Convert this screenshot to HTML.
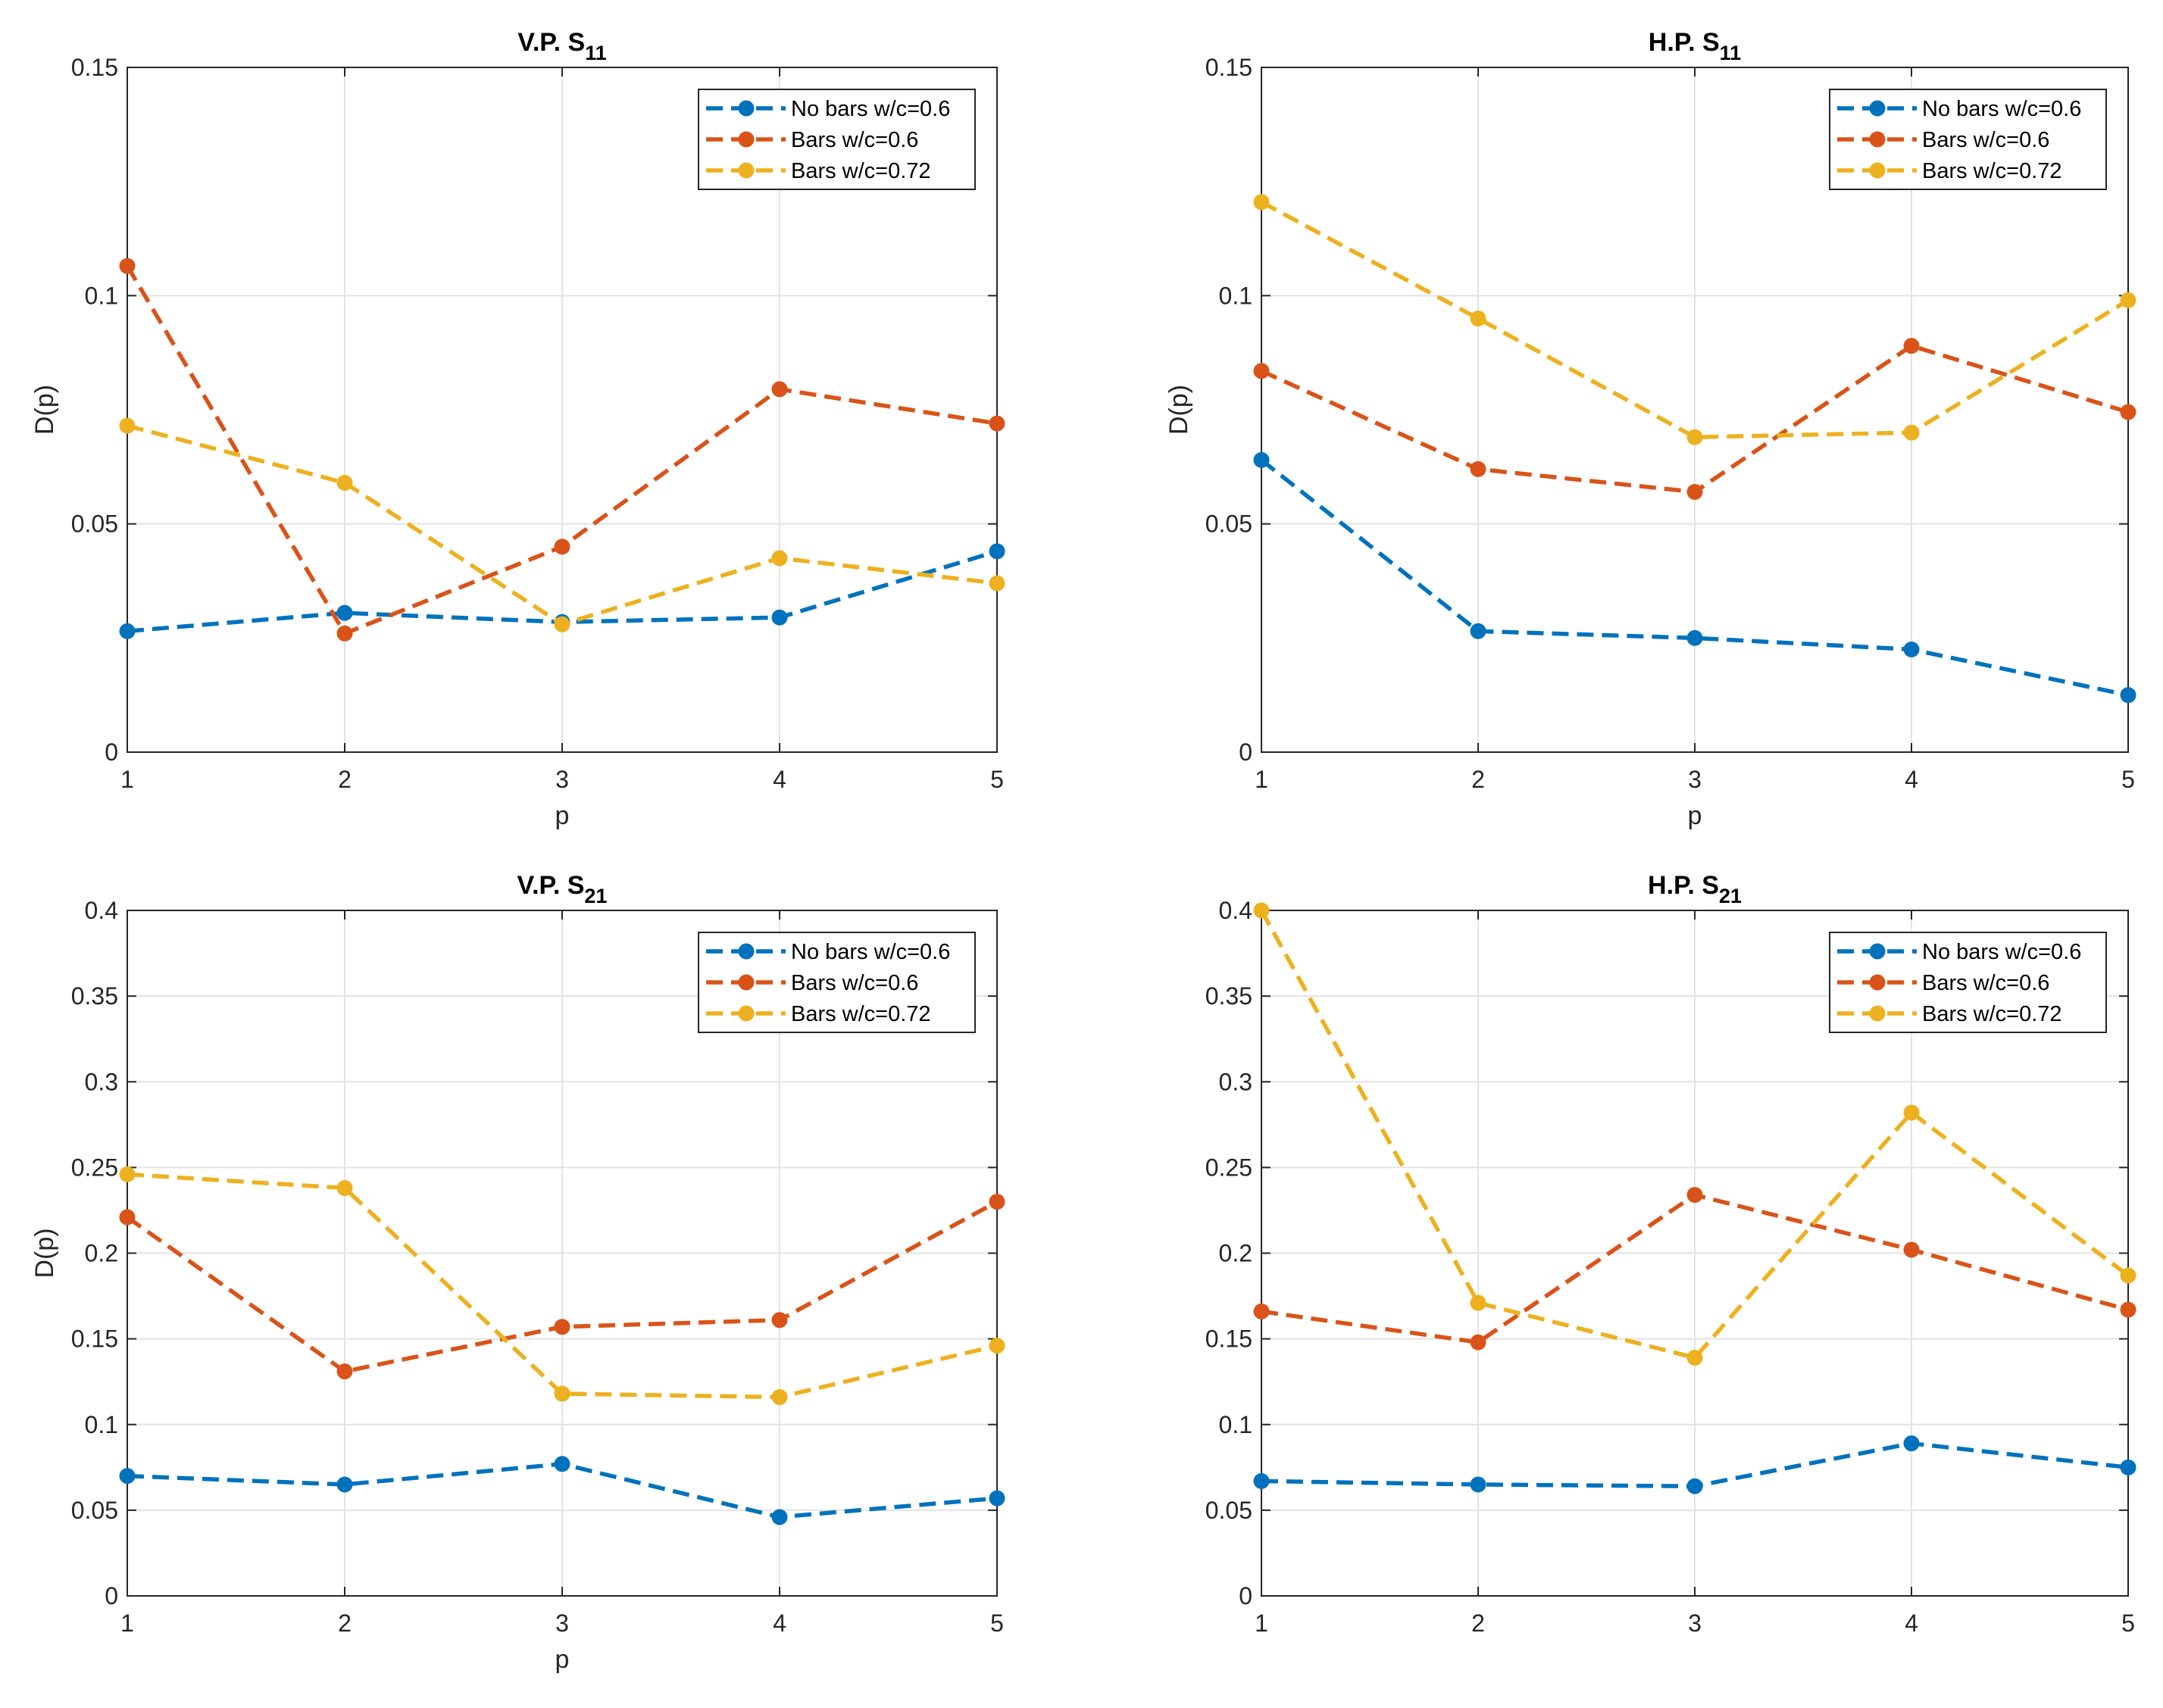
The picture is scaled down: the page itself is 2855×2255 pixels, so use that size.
<!DOCTYPE html>
<html><head><meta charset="utf-8">
<style>html,body{margin:0;padding:0;background:#fff}svg{display:block}</style></head>
<body>
<svg id="fig" width="2855" height="2255" xmlns="http://www.w3.org/2000/svg" font-family="Liberation Sans, sans-serif"></svg>
<script>
const xCats = [1, 2, 3, 4, 5];
const seriesNames = ["No bars w/c=0.6", "Bars w/c=0.6", "Bars w/c=0.72"];
const vpS11Blue = [0.0265, 0.0305, 0.0285, 0.0295, 0.044];
const vpS11Red = [0.1065, 0.026, 0.045, 0.0795, 0.072];
const vpS11Yellow = [0.0715, 0.059, 0.028, 0.0425, 0.037];
const hpS11Blue = [0.064, 0.0265, 0.025, 0.0225, 0.0125];
const hpS11Red = [0.0835, 0.062, 0.057, 0.089, 0.0745];
const hpS11Yellow = [0.1205, 0.095, 0.069, 0.070, 0.099];
const vpS21Blue = [0.070, 0.065, 0.077, 0.046, 0.057];
const vpS21Red = [0.221, 0.131, 0.157, 0.161, 0.230];
const vpS21Yellow = [0.246, 0.238, 0.118, 0.116, 0.146];
const hpS21Blue = [0.067, 0.065, 0.064, 0.089, 0.075];
const hpS21Red = [0.166, 0.148, 0.234, 0.202, 0.167];
const hpS21Yellow = [0.4, 0.171, 0.139, 0.282, 0.187];
const ticksS11 = [0, 0.05, 0.1, 0.15];
const tickLabelsS11 = ["0", "0.05", "0.1", "0.15"];
const ticksS21 = [0, 0.05, 0.1, 0.15, 0.2, 0.25, 0.3, 0.35, 0.4];
const tickLabelsS21 = ["0", "0.05", "0.1", "0.15", "0.2", "0.25", "0.3", "0.35", "0.4"];

const NS = "http://www.w3.org/2000/svg";
const colors = ["#0072BD", "#D95319", "#EDB120"];
const svg = document.getElementById("fig");
function mk(tag, attrs, parent) {
  const e = document.createElementNS(NS, tag);
  for (const k in attrs) e.setAttribute(k, attrs[k]);
  (parent || svg).appendChild(e);
  return e;
}

const panels = [
  {id:"vp-s11", L:168, R:1316, T:89, B:993, ymax:0.15, ticks:ticksS11, labels:tickLabelsS11, title:"V.P. S", sub:"11", data:[vpS11Blue, vpS11Red, vpS11Yellow], ylab:true, xlab:true},
  {id:"hp-s11", L:1665, R:2809, T:89, B:993, ymax:0.15, ticks:ticksS11, labels:tickLabelsS11, title:"H.P. S", sub:"11", data:[hpS11Blue, hpS11Red, hpS11Yellow], ylab:true, xlab:true},
  {id:"vp-s21", L:168, R:1316, T:1202, B:2107, ymax:0.4, ticks:ticksS21, labels:tickLabelsS21, title:"V.P. S", sub:"21", data:[vpS21Blue, vpS21Red, vpS21Yellow], ylab:true, xlab:true},
  {id:"hp-s21", L:1665, R:2809, T:1202, B:2107, ymax:0.4, ticks:ticksS21, labels:tickLabelsS21, title:"H.P. S", sub:"21", data:[hpS21Blue, hpS21Red, hpS21Yellow], ylab:false, xlab:false}
];

panels.forEach(p => {
  const g = mk("g", {});
  
  
  const xs = v => p.L + (v - 1) / 4 * (p.R - p.L);
  const ys = v => p.B - v / p.ymax * (p.B - p.T);
  xCats.forEach(c => {
    const l = mk("line", {x1:xs(c), x2:xs(c), y1:p.T, y2:p.B, stroke:"#e3e3e3", "stroke-width":2}, g);
    
    
  });
  p.ticks.forEach(t => {
    const l = mk("line", {x1:p.L, x2:p.R, y1:ys(t), y2:ys(t), stroke:"#e3e3e3", "stroke-width":2}, g);
    
    
  });
  const box = mk("rect", {x:p.L, y:p.T, width:p.R-p.L, height:p.B-p.T, fill:"none", stroke:"#262626", "stroke-width":2}, g);
  
  
  xCats.forEach(c => {
    mk("line", {x1:xs(c), x2:xs(c), y1:p.B, y2:p.B-12, stroke:"#262626", "stroke-width":2}, g);
    mk("line", {x1:xs(c), x2:xs(c), y1:p.T, y2:p.T+12, stroke:"#262626", "stroke-width":2}, g);
    const t = mk("text", {x:xs(c), y:p.B+47, "text-anchor":"middle", "font-size":32, fill:"#262626"}, g);
    t.textContent = c;
    
    
  });
  p.ticks.forEach((tv, i) => {
    mk("line", {x1:p.L, x2:p.L+12, y1:ys(tv), y2:ys(tv), stroke:"#262626", "stroke-width":2}, g);
    mk("line", {x1:p.R, x2:p.R-12, y1:ys(tv), y2:ys(tv), stroke:"#262626", "stroke-width":2}, g);
    const t = mk("text", {x:p.L-12, y:ys(tv)+11, "text-anchor":"end", "font-size":32, fill:"#262626"}, g);
    t.textContent = p.labels[i];
    
    
  });
  const tt = mk("text", {x:(p.L+p.R)/2, y:p.T-22, "text-anchor":"middle", "font-size":34, "font-weight":"bold", fill:"#000"}, g);
  
  
  tt.appendChild(document.createTextNode(p.title));
  const ts = mk("tspan", {dy:12, "font-size":27}, tt);
  ts.textContent = p.sub;
  if (p.ylab) {
    const yl = mk("text", {x:0, y:0, transform:`translate(${p.L-98},${(p.T+p.B)/2}) rotate(-90)`, "text-anchor":"middle", "font-size":34, fill:"#262626"}, g);
    yl.textContent = "D(p)";
    
    
  }
  if (p.xlab) {
    const xl = mk("text", {x:(p.L+p.R)/2, y:p.B+95, "text-anchor":"middle", "font-size":34, fill:"#262626"}, g);
    xl.textContent = "p";
    
    
  }
  p.data.forEach((arr, si) => {
    const pts = arr.map((v, i) => xs(xCats[i]) + "," + ys(v)).join(" ");
    const pl = mk("polyline", {points:pts, fill:"none", stroke:colors[si], "stroke-width":5.5, "stroke-dasharray":"22 11"}, g);
    
    
    arr.forEach((v, i) => {
      const c = mk("circle", {cx:xs(xCats[i]), cy:ys(v), r:10.5, fill:colors[si]}, g);
      
      
    });
  });
  const lx = p.R - 29 - 365, ly = p.T + 29;
  const lg = mk("g", {}, g);
  
  
  mk("rect", {x:lx, y:ly, width:365, height:132, fill:"#fff", stroke:"#262626", "stroke-width":2}, lg);
  seriesNames.forEach((n, si) => {
    const yy = ly + 25 + si * 41;
    const e = mk("g", {}, lg);
    
    
    mk("line", {x1:lx+10, x2:lx+115, y1:yy, y2:yy, stroke:colors[si], "stroke-width":5.5, "stroke-dasharray":"22 11"}, e);
    mk("circle", {cx:lx+63, cy:yy, r:10.5, fill:colors[si]}, e);
    const t = mk("text", {x:lx+122, y:yy+10, "font-size":29, fill:"#000"}, e);
    t.textContent = n;
  });
});
</script>
</body></html>
